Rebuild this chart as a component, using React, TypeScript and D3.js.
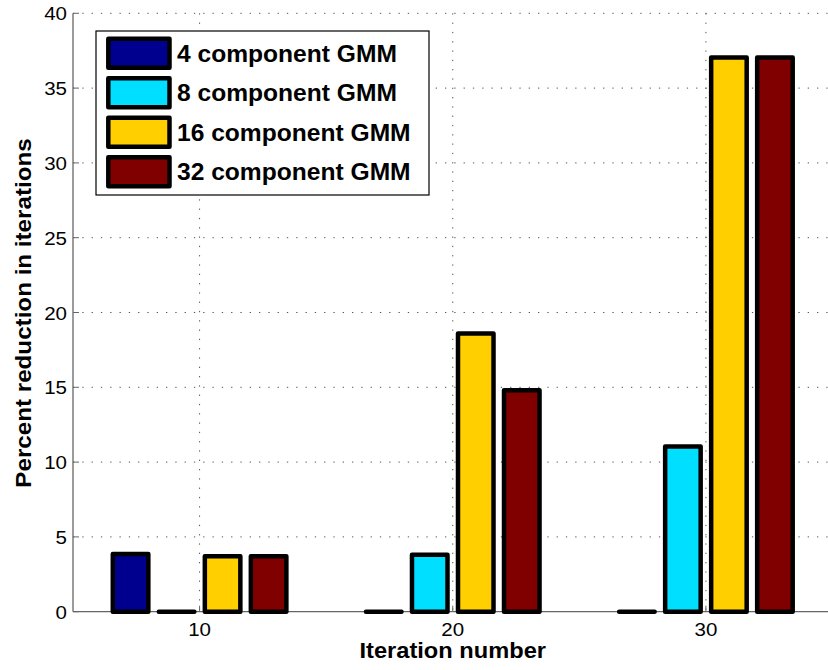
import React from "react";
import * as d3 from "d3";

const categories = [10, 20, 30];
const seriesNames = ["4 component GMM", "8 component GMM", "16 component GMM", "32 component GMM"];
const seriesColors = ["#00008f", "#00dfff", "#ffcf00", "#800000"];
const gmm4 = [3.85, 0, 0];
const gmm8 = [0, 3.8, 11.05];
const gmm16 = [3.7, 18.6, 37.05];
const gmm32 = [3.7, 14.8, 37.05];
const seriesValues = [gmm4, gmm8, gmm16, gmm32];
const yTicks = [0, 5, 10, 15, 20, 25, 30, 35, 40];
const xTicks = [10, 20, 30];

const W = 828;
const H = 670;
const FONT = "Liberation Sans, Arial, Helvetica, sans-serif";

export default function App() {
  const x = d3.scaleLinear().domain([5, 35]).range([73, 832.5]);
  const y = d3.scaleLinear().domain([0, 40]).range([611.7, 13.3]);
  const groupW = (x(20) - x(10)) * 0.727;
  const sub = d3
    .scaleBand<number>()
    .domain(d3.range(seriesNames.length))
    .range([-groupW / 2, groupW / 2])
    .paddingInner(0.228)
    .paddingOuter(0.114);
  const bw = sub.bandwidth();

  const barPath = (x0: number, v: number) => {
    const p = d3.path();
    const y0 = y(0);
    const y1 = y(v);
    p.moveTo(x0, y0);
    p.lineTo(x0, y1);
    p.lineTo(x0 + bw, y1);
    p.lineTo(x0 + bw, y0);
    p.closePath();
    return p.toString();
  };

  const legendRows = [53.3, 92.8, 132.3, 171.8];

  return (
    <svg width={W} height={H} style={{ position: "absolute", left: 0, top: 0, background: "#fff" }}>
      <rect x={0} y={0} width={W} height={H} fill="#fff" />
      {/* grid */}
      {yTicks.filter((t) => t > 0).map((t) => (
        <line key={"gy" + t} x1={x(5)} x2={W} y1={y(t)} y2={y(t)} stroke="#555" strokeWidth={1} strokeDasharray="1.3 8" />
      ))}
      {xTicks.map((t) => (
        <line key={"gx" + t} x1={x(t)} x2={x(t)} y1={y(40)} y2={y(0)} stroke="#555" strokeWidth={1} strokeDasharray="1.3 8" />
      ))}
      {/* axes */}
      <line x1={x(5)} x2={x(5)} y1={y(40)} y2={y(0)} stroke="#666" strokeWidth={1.3} />
      <line x1={x(5)} x2={W} y1={y(0)} y2={y(0)} stroke="#666" strokeWidth={1.3} />
      {yTicks.map((t) => (
        <line key={"ty" + t} x1={x(5)} x2={x(5) + 6} y1={y(t)} y2={y(t)} stroke="#666" strokeWidth={1} />
      ))}
      {xTicks.map((t) => (
        <line key={"tx" + t} x1={x(t)} x2={x(t)} y1={y(0)} y2={y(0) - 6} stroke="#666" strokeWidth={1} />
      ))}
      {/* bars */}
      {seriesValues.map((vals, si) =>
        vals.map((v, ci) => (
          <path
            key={"b" + si + "-" + ci}
            d={barPath(x(categories[ci]) + (sub(si) as number), v)}
            fill={seriesColors[si]}
            stroke="#000"
            strokeWidth={4.5}
            strokeLinejoin="round"
          />
        ))
      )}
      {/* tick labels */}
      {yTicks.map((t) => (
        <text
          key={"ly" + t}
          transform={`translate(${x(5) - 6},${y(t) + 7}) scale(1.08,1)`}
          textAnchor="end"
          fontFamily={FONT}
          fontSize={19}
          fill="#000"
        >
          {t}
        </text>
      ))}
      {xTicks.map((t) => (
        <text
          key={"lx" + t}
          transform={`translate(${x(t)},636) scale(1.08,1)`}
          textAnchor="middle"
          fontFamily={FONT}
          fontSize={19}
          fill="#000"
        >
          {t}
        </text>
      ))}
      {/* axis titles */}
      <text
        transform={`translate(${x(20)},658) scale(1.1,1)`}
        textAnchor="middle"
        fontFamily={FONT}
        fontWeight="bold"
        fontSize={21.5}
        fill="#000"
      >
        Iteration number
      </text>
      <text
        transform={`translate(31,313) rotate(-90) scale(1.1,1)`}
        textAnchor="middle"
        fontFamily={FONT}
        fontWeight="bold"
        fontSize={22}
        fill="#000"
      >
        Percent reduction in iterations
      </text>
      {/* legend */}
      <rect x={96} y={31} width={333} height={164} fill="#fff" stroke="#000" strokeWidth={1.2} />
      {seriesNames.map((name, i) => (
        <g key={"lg" + i}>
          <rect
            x={108.3}
            y={legendRows[i] - 14.5}
            width={61.2}
            height={29}
            fill={seriesColors[i]}
            stroke="#000"
            strokeWidth={4.5}
            strokeLinejoin="round"
          />
          <text
            transform={`translate(177,${legendRows[i] + 8.5}) scale(1.07,1)`}
            fontFamily={FONT}
            fontWeight="bold"
            fontSize={23}
            fill="#000"
          >
            {name}
          </text>
        </g>
      ))}
    </svg>
  );
}
